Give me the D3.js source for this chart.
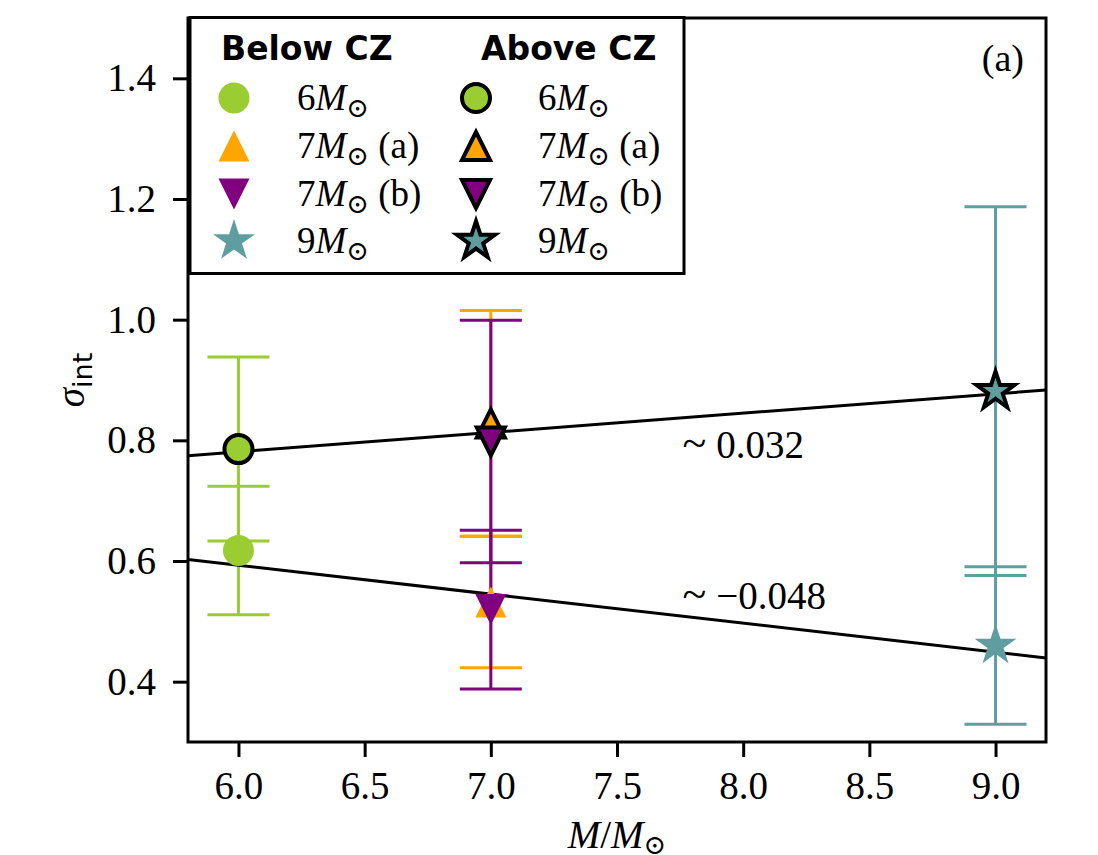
<!DOCTYPE html>
<html>
<head>
<meta charset="utf-8">
<script src="https://cdn.jsdelivr.net/npm/d3@7"></script>
<style>
  body { margin: 0; background: #fff; }
  svg { display: block; }
</style>
</head>
<body>
<div id="chart"></div>
<script>
// Models: mass, label suffix, colour, marker shape
const masses = [6, 7, 7, 9];
const massLabels = ["6", "7", "7", "9"];
const suffixes = ["", " (a)", " (b)", ""];
const colors = ["#9ACD32", "#FFA500", "#800080", "#5F9EA0"];
const shapes = ["circle", "triUp", "triDown", "star"];

// sigma_int values and symmetric errors
const belowVals = [0.6175, 0.532, 0.5195, 0.460];
const belowErr = [0.1065, 0.109, 0.1315, 0.1305];
const aboveVals = [0.7855, 0.828, 0.798, 0.8815];
const aboveErr = [0.1525, 0.187, 0.201, 0.3055];

// linear fits: [slope, intercept]
const fitAbove = [0.032, 0.589];
const fitBelow = [-0.048, 0.881];

const xTicks = [6.0, 6.5, 7.0, 7.5, 8.0, 8.5, 9.0];
const yTicks = [0.4, 0.6, 0.8, 1.0, 1.2, 1.4];

const W = 1098, H = 855;
const margin = { top: 18, right: 52, bottom: 113, left: 188 };
const width = W - margin.left - margin.right;
const height = H - margin.top - margin.bottom;

const serif = "'Liberation Serif', 'Times New Roman', serif";
const sans = "'DejaVu Sans', sans-serif";

const svg = d3.select("#chart").append("svg")
  .attr("width", W)
  .attr("height", H);

const g = svg.append("g")
  .attr("transform", `translate(${margin.left},${margin.top})`);

const x = d3.scaleLinear().domain([5.8, 9.2]).range([0, width]);
const y = d3.scaleLinear().domain([0.3, 1.5]).range([height, 0]);

// marker paths centred at 0,0
function markerPath(shape, s) {
  const p = d3.path();
  if (shape === "circle") {
    p.arc(0, 0, s, 0, 2 * Math.PI);
  } else if (shape === "triUp") {
    p.moveTo(0, -s); p.lineTo(-s, s); p.lineTo(s, s); p.closePath();
  } else if (shape === "triDown") {
    p.moveTo(0, s); p.lineTo(-s, -s); p.lineTo(s, -s); p.closePath();
  } else if (shape === "star") {
    const R = s * 1.42, r = R * 0.381966;
    for (let k = 0; k < 10; k++) {
      const rad = k % 2 === 0 ? R : r;
      const a = -Math.PI / 2 + k * Math.PI / 5;
      const px = rad * Math.cos(a), py = rad * Math.sin(a);
      if (k === 0) p.moveTo(px, py); else p.lineTo(px, py);
    }
    p.closePath();
  }
  return p.toString();
}

// Error bars
const capHalf = 31;
function errorbar(xv, yv, err, color) {
  const eg = g.append("g").attr("stroke", color).attr("stroke-width", 3);
  eg.append("line")
    .attr("x1", x(xv)).attr("x2", x(xv))
    .attr("y1", y(yv - err)).attr("y2", y(yv + err));
  [yv - err, yv + err].forEach(v => {
    eg.append("line")
      .attr("x1", x(xv) - capHalf).attr("x2", x(xv) + capHalf)
      .attr("y1", y(v)).attr("y2", y(v));
  });
}

masses.forEach((m, i) => {
  errorbar(m, belowVals[i], belowErr[i], colors[i]);
  errorbar(m, aboveVals[i], aboveErr[i], colors[i]);
});

// Fit lines
[fitAbove, fitBelow].forEach(f => {
  const [a, b] = f;
  g.append("line")
    .attr("x1", x(5.8)).attr("y1", y(a * 5.8 + b))
    .attr("x2", x(9.2)).attr("y2", y(a * 9.2 + b))
    .attr("stroke", "#000")
    .attr("stroke-width", 3);
});

// Markers
masses.forEach((m, i) => {
  g.append("path")
    .attr("d", markerPath(shapes[i], 15.5))
    .attr("transform", `translate(${x(m)},${y(belowVals[i])})`)
    .attr("fill", colors[i]);
  g.append("path")
    .attr("d", markerPath(shapes[i], 14))
    .attr("transform", `translate(${x(m)},${y(aboveVals[i])})`)
    .attr("fill", colors[i])
    .attr("stroke", "#000")
    .attr("stroke-width", 4)
    .attr("stroke-linejoin", "miter");
});

// Slope annotations
function slopeText(xv, yBase, txt) {
  const t = g.append("text")
    .attr("x", x(xv))
    .attr("y", yBase)
    .style("font-family", serif)
    .style("font-size", "39px");
  t.append("tspan").style("font-size", "44px").text("~");
  t.append("tspan").text(txt);
}
slopeText(7.76, y(0.79) + 12, " 0.032");
slopeText(7.76, y(0.54) + 12, " \u22120.048");

// Panel label
g.append("text")
  .attr("x", width - 22)
  .attr("y", 53)
  .attr("text-anchor", "end")
  .style("font-family", serif)
  .style("font-size", "38px")
  .text("(a)");

// Axes
const xAxis = g.append("g")
  .attr("transform", `translate(0,${height})`)
  .call(d3.axisBottom(x).tickValues(xTicks).tickFormat(d3.format(".1f")).tickSize(15).tickPadding(14));
const yAxis = g.append("g")
  .call(d3.axisLeft(y).tickValues(yTicks).tickFormat(d3.format(".1f")).tickSize(15).tickPadding(17));

[xAxis, yAxis].forEach(ax => {
  ax.select(".domain").remove();
  ax.selectAll(".tick line").attr("stroke", "#000").attr("stroke-width", 3);
  ax.selectAll(".tick text")
    .style("font-family", serif)
    .style("font-size", "39px")
    .attr("fill", "#000");
});

// Frame
g.append("rect")
  .attr("x", 0).attr("y", 0)
  .attr("width", width).attr("height", height)
  .attr("fill", "none")
  .attr("stroke", "#000")
  .attr("stroke-width", 3);

// Axis labels
const xl = svg.append("text")
  .attr("x", margin.left + width / 2)
  .attr("y", 848)
  .attr("text-anchor", "middle")
  .style("font-family", serif)
  .style("font-size", "39px");
xl.append("tspan").style("font-style", "italic").text("M");
xl.append("tspan").text("/");
xl.append("tspan").style("font-style", "italic").text("M");
xl.append("tspan").attr("dy", 6).style("font-size", "27px").style("font-family", "'DejaVu Serif', serif").text("\u2299");

const yl = svg.append("text")
  .attr("transform", `translate(84,${margin.top + height / 2}) rotate(-90)`)
  .attr("text-anchor", "middle")
  .style("font-family", serif)
  .style("font-size", "39px");
yl.append("tspan").style("font-style", "italic").text("\u03C3");
yl.append("tspan").attr("dy", 8).style("font-family", sans).style("font-size", "27px").text("int");

// Legend
const legend = svg.append("g");
legend.append("rect")
  .attr("x", 190).attr("y", 17.5)
  .attr("width", 494).attr("height", 256)
  .attr("fill", "#fff")
  .attr("stroke", "#000")
  .attr("stroke-width", 3);

const colX = [{ marker: 234, text: 297, title: 221 }, { marker: 476, text: 538, title: 481 }];
const titles = ["Below CZ", "Above CZ"];
const rowY = [98, 146, 194, 241];

titles.forEach((t, c) => {
  legend.append("text")
    .attr("x", colX[c].title)
    .attr("y", 60)
    .style("font-family", sans)
    .style("font-weight", "bold")
    .style("font-size", "33px")
    .text(t);
});

masses.forEach((m, i) => {
  [0, 1].forEach(c => {
    const mk = legend.append("path")
      .attr("transform", `translate(${colX[c].marker},${rowY[i]})`)
      .attr("fill", colors[i]);
    if (c === 0) {
      mk.attr("d", markerPath(shapes[i], 15.5));
    } else {
      mk.attr("d", markerPath(shapes[i], 14))
        .attr("stroke", "#000").attr("stroke-width", 4);
    }
    const t = legend.append("text")
      .attr("x", colX[c].text)
      .attr("y", rowY[i] + 12)
      .style("font-family", serif)
      .style("font-size", "37px");
    t.append("tspan").text(massLabels[i]);
    t.append("tspan").style("font-style", "italic").text("M");
    t.append("tspan").attr("dy", 7).style("font-size", "27px").style("font-family", "'DejaVu Serif', serif").text("\u2299");
    if (suffixes[i]) t.append("tspan").attr("dy", -7).text(suffixes[i]);
  });
});
</script>
</body>
</html>
